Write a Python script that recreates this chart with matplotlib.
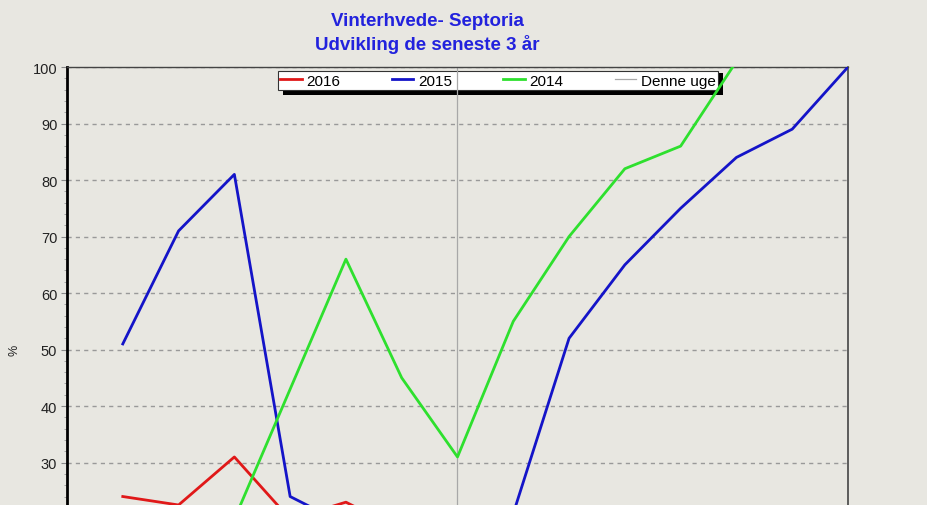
import numpy as np
import matplotlib
matplotlib.use("Agg")
import matplotlib.pyplot as plt
from matplotlib.ticker import MultipleLocator
from matplotlib.patches import Rectangle

# weeks on the x axis (the lower part of the chart is cut off in the reference)
weeks = [1, 2, 3, 4, 5, 6, 7, 8, 9, 10, 11, 12, 13, 14]

# Septoria-angreb i %
val_2016 = [24, 22.5, 31, 20, 23, 18]
val_2015 = [51, 71, 81, 24, 19, 15, 13, 21, 52, 65, 75, 84, 89, 100]
val_2014 = [17, 15, 20, 43, 66, 45, 31, 55, 70, 82, 86, 101, 110, 118]
this_week = 7

title_lines = ["Vinterhvede- Septoria", "Udvikling de seneste 3 år"]
yticks = [30, 40, 50, 60, 70, 80, 90, 100]

bg = "#e8e7e1"
plt.rcParams["font.family"] = ["Liberation Sans", "DejaVu Sans"]

fig = plt.figure(figsize=(9.28, 5.06), dpi=100, facecolor=bg)
ax = fig.add_axes([67 / 928, 0.0, (848 - 67) / 928, 1 - 68 / 506])
ax.set_facecolor(bg)

ax.plot(weeks[:len(val_2016)], val_2016, color="#e01818", lw=2.0, label="2016", zorder=3)
ax.plot(weeks, val_2015, color="#1414c8", lw=2.0, label="2015", zorder=3)
ax.plot(weeks, val_2014, color="#2ee02e", lw=2.0, label="2014", zorder=3)
ax.axvline(this_week, color="#a8a8a8", lw=0.9, label="Denne uge", zorder=2.5)

ax.set_xlim(0, 14)
ax.set_ylim(22.5, 100)
ax.set_yticks(yticks)
ax.yaxis.set_minor_locator(MultipleLocator(2))
ax.tick_params(axis="y", which="major", length=4, width=0.8, color="#888888",
               labelsize=10.5, labelcolor="#222222", pad=3)
ax.tick_params(axis="y", which="minor", length=2, width=0.6, color="#999999")
ax.set_xticks([])
ax.grid(axis="y", color="#999999", ls=(0, (3, 3)), lw=1.0)
ax.set_axisbelow(True)

ax.spines["bottom"].set_visible(False)
ax.spines["left"].set_linewidth(2.0)
ax.spines["left"].set_color("black")
ax.spines["top"].set_color("#444444")
ax.spines["top"].set_linewidth(1.0)
ax.spines["right"].set_color("#444444")
ax.spines["right"].set_linewidth(1.2)

fig.text(15 / 928, 1 - 350 / 506, "%", rotation=90, ha="center", va="center",
         fontsize=9, color="#222222")

fig.text(427 / 928, 1 - 21 / 506, title_lines[0], ha="center", va="center",
         fontsize=13.5, fontweight="bold", color="#2222dd")
fig.text(427 / 928, 1 - 45 / 506, title_lines[1], ha="center", va="center",
         fontsize=13.5, fontweight="bold", color="#2222dd")

# legend box with a heavy black drop shadow
lx0, lx1, ly0, ly1 = 278, 718, 69, 91
leg = ax.legend(loc="lower left", ncol=4, mode="expand",
                bbox_to_anchor=(lx0 / 928, 1 - ly1 / 506, (lx1 - lx0) / 928, (ly1 - ly0) / 506),
                bbox_transform=fig.transFigure,
                fancybox=False, framealpha=1, edgecolor="#333333", facecolor="white",
                fontsize=11, handlelength=1.4, handletextpad=0.3,
                borderpad=0.15, borderaxespad=0)
leg.get_frame().set_linewidth(0.8)
leg.set_zorder(2)
shadow = Rectangle(((lx0 + 5) / 928, 1 - (ly1 + 5) / 506), (lx1 - lx0) / 928, (ly1 - ly0) / 506,
                   transform=fig.transFigure, facecolor="black", edgecolor="none",
                   zorder=1.9, clip_on=False)
ax.add_patch(shadow)

fig.savefig("out.png", dpi=100, facecolor=bg)
